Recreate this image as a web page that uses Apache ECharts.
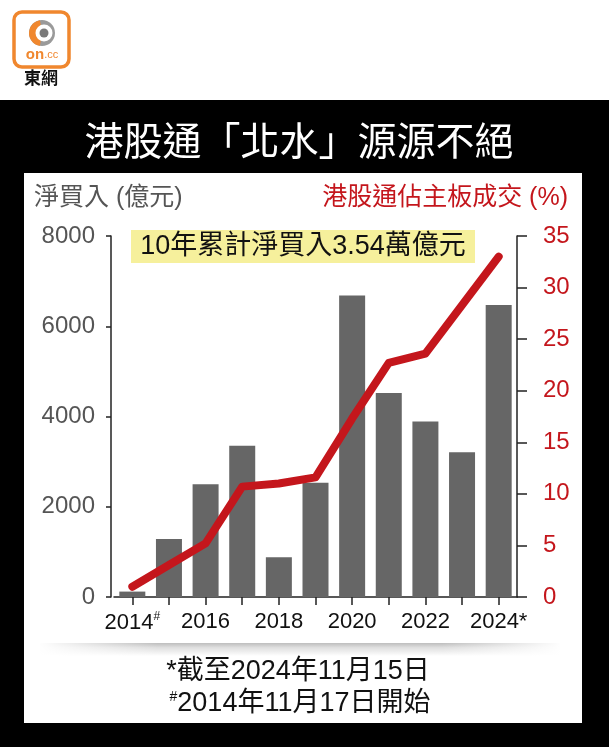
<!DOCTYPE html>
<html>
<head>
<meta charset="utf-8">
<script src="https://cdn.jsdelivr.net/npm/echarts@6/dist/echarts.min.js"></script>
<style>
html,body{margin:0;padding:0;background:#fff;}
#chart{width:609px;height:747px;}
</style>
</head>
<body>
<div id="chart"></div>
<script>
// ---- data ----
const years = ['2014','2015','2016','2017','2018','2019','2020','2021','2022','2023','2024'];
const netBuy = [120, 1285, 2500, 3350, 880, 2530, 6680, 4520, 3890, 3210, 6470]; // 億元
const share = [1.0, 3.1, 5.2, 10.7, 11.0, 11.6, 17.3, 22.7, 23.6, 28.3, 33.0]; // %
const leftAxis = {min: 0, max: 8000, interval: 2000};
const rightAxis = {min: 0, max: 35, interval: 5};
const titleText = '港股通「北水」源源不絕';
const leftName = '淨買入 (億元)';
const rightName = '港股通佔主板成交 (%)';
const noteBox = '10年累計淨買入3.54萬億元';
const note1 = '*截至2024年11月15日';
const note2 = '2014年11月17日開始';

const NUM = "'Liberation Sans', Arial, 'Noto Sans CJK TC', sans-serif";
const CJK = "'Liberation Sans', 'Noto Sans CJK TC', sans-serif";
const RED = '#c4161c';

const chart = echarts.init(document.getElementById('chart'));
chart.setOption({
  backgroundColor: '#fff',
  animation: false,
  graphic: [
    // black frame
    {type:'rect', z:-10, shape:{x:0,y:100,width:609,height:647}, style:{fill:'#000'}},
    // white panel
    {type:'rect', z:-9, shape:{x:24,y:173,width:558,height:550}, style:{fill:'#fff'}},
    // shadow band
    {type:'rect', z:-8, shape:{x:40,y:643,width:520,height:13},
      style:{fill:{type:'linear',x:0,y:0,x2:0,y2:1,colorStops:[{offset:0,color:'rgba(0,0,0,0.26)'},{offset:0.35,color:'rgba(0,0,0,0.13)'},{offset:1,color:'rgba(0,0,0,0)'}]}}},
    {type:'rect', z:-7, shape:{x:38,y:640,width:120,height:18},
      style:{fill:{type:'linear',x:0,y:0,x2:1,y2:0,colorStops:[{offset:0,color:'#fff'},{offset:1,color:'rgba(255,255,255,0)'}]}}},
    {type:'rect', z:-7, shape:{x:442,y:640,width:120,height:18},
      style:{fill:{type:'linear',x:0,y:0,x2:1,y2:0,colorStops:[{offset:0,color:'rgba(255,255,255,0)'},{offset:1,color:'#fff'}]}}},
    // logo
    {type:'rect', shape:{x:14,y:12,width:55,height:55,r:8}, style:{fill:'#fff',stroke:'#f0872e',lineWidth:3.5}},
    {type:'circle', shape:{cx:42,cy:33,r:13}, style:{fill:'#9a9a9a'}},
    {type:'sector', shape:{cx:42,cy:33,r:13,r0:0,startAngle:Math.PI*0.55,endAngle:Math.PI*1.45}, style:{fill:'#f0872e'}},
    {type:'circle', shape:{cx:44,cy:33,r:8.5}, style:{fill:'#fff'}},
    {type:'circle', shape:{cx:44,cy:33,r:4.5}, style:{fill:'#7a7a7a'}},
    {type:'text', style:{x:42,y:55,text:'{a|on}{b|.cc}',textAlign:'center',textVerticalAlign:'middle',
      rich:{a:{fontSize:15,fontWeight:'bold',fill:'#f0872e',fontFamily:NUM},b:{fontSize:11,fill:'#f0872e',fontFamily:NUM}}}},
    {type:'text', style:{x:41,y:79,text:'東網',textAlign:'center',textVerticalAlign:'middle',fontSize:17,fontWeight:'bold',fill:'#111',fontFamily:CJK}},
    // title
    {type:'text', style:{x:299,y:144,text:titleText,textAlign:'center',textVerticalAlign:'middle',fontSize:39,fill:'#fff',fontFamily:CJK}},
    // axis names
    {type:'text', style:{x:34,y:198,text:leftName,textAlign:'left',textVerticalAlign:'middle',fontSize:25,fill:'#555',fontFamily:CJK}},
    {type:'text', style:{x:568,y:198,text:rightName,textAlign:'right',textVerticalAlign:'middle',fontSize:25,fill:RED,fontFamily:CJK}},
    // annotation box
    {type:'rect', shape:{x:131,y:230,width:344,height:33}, style:{fill:'#f6f09c'}},
    {type:'text', style:{x:303,y:247,text:noteBox,textAlign:'center',textVerticalAlign:'middle',fontSize:27,fill:'#111',fontFamily:CJK}},
    // notes
    {type:'text', style:{x:298,y:672,text:note1,textAlign:'center',textVerticalAlign:'middle',fontSize:27,fill:'#111',fontFamily:CJK}},
    {type:'text', style:{x:300,y:704,text:'{s|#}{n|'+note2+'}',textAlign:'center',textVerticalAlign:'middle',
      rich:{s:{fontSize:14,fill:'#111',fontFamily:NUM,verticalAlign:'top',padding:[0,0,12,0]},n:{fontSize:27,fill:'#111',fontFamily:CJK}}}}
  ],
  grid: {left:114, right:92, top:236, height:361, containLabel:false},
  xAxis: {
    type:'category', data: years, boundaryGap:true,
    axisLine:{show:true, lineStyle:{color:'#222', width:1.5}},
    axisTick:{show:true, alignWithLabel:true, interval:0, length:8, lineStyle:{color:'#222', width:1.5}},
    axisLabel:{interval:1, margin:14, fontSize:22, color:'#111', fontFamily:NUM,
      formatter: v => v==='2014' ? '2014{s|#}' : (v==='2024' ? '2024*' : v),
      rich:{s:{fontSize:12, color:'#111', verticalAlign:'top', padding:[0,0,12,0]}}}
  },
  yAxis: [
    {type:'value', min:leftAxis.min, max:leftAxis.max, interval:leftAxis.interval, position:'left', offset:3,
      axisLine:{show:true, lineStyle:{color:'#222', width:1.5}},
      axisTick:{show:true, length:5, lineStyle:{color:'#222', width:1.5}},
      splitLine:{show:false},
      axisLabel:{margin:16, fontSize:24, color:'#555', fontFamily:NUM, formatter: v => String(v)}},
    {type:'value', min:rightAxis.min, max:rightAxis.max, interval:rightAxis.interval, position:'right',
      axisLine:{show:true, lineStyle:{color:'#222', width:1.5}},
      axisTick:{show:true, length:10, lineStyle:{color:'#222', width:1.5}},
      splitLine:{show:false},
      axisLabel:{margin:26, fontSize:24, color:RED, fontFamily:NUM}}
  ],
  series: [
    {type:'bar', data: netBuy, yAxisIndex:0, barWidth:26, itemStyle:{color:'#666666'}, z:2},
    {type:'line', data: share, yAxisIndex:1, symbol:'none', smooth:false, z:3,
      lineStyle:{color:RED, width:8, cap:'round', join:'round'}}
  ]
});
</script>
</body>
</html>
